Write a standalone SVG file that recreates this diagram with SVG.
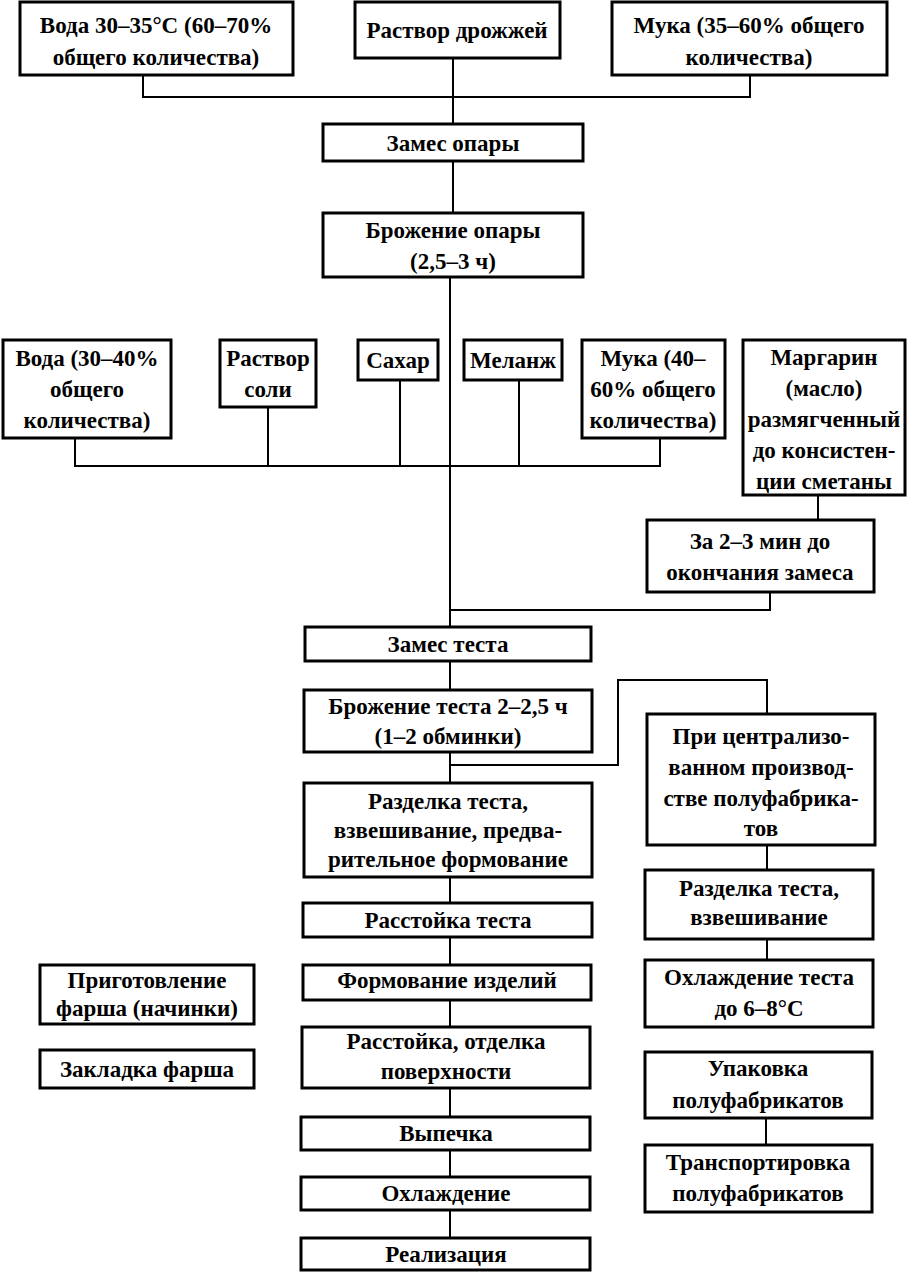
<svg xmlns="http://www.w3.org/2000/svg" width="907" height="1277" viewBox="0 0 907 1277">
<style>
.b{fill:#fff;stroke:#000;stroke-width:3}
.c{fill:none;stroke:#000;stroke-width:2}
text{font-family:"Liberation Serif","DejaVu Serif",serif;font-weight:bold;font-size:23px;text-anchor:middle;fill:#000}
</style>
<rect width="907" height="1277" fill="#fff"/>
<g id="connectors">
<path class="c" d="M143 75V97H750V75"/>
<path class="c" d="M453 58V124"/>
<path class="c" d="M453 161V213"/>
<path class="c" d="M450 277V627"/>
<path class="c" d="M75 438V466H660V438"/>
<path class="c" d="M268 407V466"/>
<path class="c" d="M400 380V466"/>
<path class="c" d="M519 380V466"/>
<path class="c" d="M818 495V520"/>
<path class="c" d="M770 592V610H450"/>
<path class="c" d="M450 661V690"/>
<path class="c" d="M450 752V783"/>
<path class="c" d="M450 765H618V680H767V714"/>
<path class="c" d="M450 877V903"/>
<path class="c" d="M450 937V965"/>
<path class="c" d="M450 1000V1027"/>
<path class="c" d="M450 1088V1117"/>
<path class="c" d="M450 1150V1177"/>
<path class="c" d="M450 1210V1238"/>
<path class="c" d="M767 845V870"/>
<path class="c" d="M767 939V960"/>
<path class="c" d="M766 1118V1145"/>
</g>
<g id="n1"><rect class="b" x="20" y="2" width="273" height="73"/><text x="156" y="33">Вода 30–35°С (60–70%</text><text x="156" y="65">общего количества)</text></g>
<g id="n2"><rect class="b" x="355" y="2" width="205" height="56"/><text x="457" y="38">Раствор дрожжей</text></g>
<g id="n3"><rect class="b" x="612" y="2" width="275" height="73"/><text x="749" y="33">Мука (35–60% общего</text><text x="749" y="65">количества)</text></g>
<g id="n4"><rect class="b" x="323" y="124" width="260" height="37"/><text x="453" y="151">Замес опары</text></g>
<g id="n5"><rect class="b" x="323" y="213" width="260" height="64"/><text x="453" y="238">Брожение опары</text><text x="453" y="269">(2,5–3 ч)</text></g>
<g id="n6"><rect class="b" x="3" y="340" width="168" height="98"/><text x="87" y="366">Вода (30–40%</text><text x="87" y="397">общего</text><text x="87" y="428">количества)</text></g>
<g id="n7"><rect class="b" x="220" y="340" width="96" height="67"/><text x="268" y="366">Раствор</text><text x="268" y="397">соли</text></g>
<g id="n8"><rect class="b" x="358" y="340" width="80" height="40"/><text x="398" y="368">Сахар</text></g>
<g id="n9"><rect class="b" x="464" y="340" width="98" height="40"/><text x="513" y="368">Меланж</text></g>
<g id="n10"><rect class="b" x="582" y="340" width="143" height="98"/><text x="653" y="366">Мука (40–</text><text x="653" y="397">60% общего</text><text x="653" y="428">количества)</text></g>
<g id="n11"><rect class="b" x="743" y="340" width="162" height="155"/><text x="824" y="365">Маргарин</text><text x="824" y="396">(масло)</text><text x="824" y="427">размягченный</text><text x="824" y="458">до консистен-</text><text x="824" y="489">ции сметаны</text></g>
<g id="n12"><rect class="b" x="647" y="520" width="227" height="72"/><text x="760" y="549">За 2–3 мин до</text><text x="760" y="580">окончания замеса</text></g>
<g id="n13"><rect class="b" x="305" y="627" width="286" height="34"/><text x="448" y="652">Замес теста</text></g>
<g id="n14"><rect class="b" x="304" y="690" width="288" height="62"/><text x="448" y="714">Брожение теста 2–2,5 ч</text><text x="448" y="744">(1–2 обминки)</text></g>
<g id="n15"><rect class="b" x="647" y="714" width="228" height="131"/><text x="761" y="744">При централизо-</text><text x="761" y="775">ванном производ-</text><text x="761" y="806">стве полуфабрика-</text><text x="761" y="836">тов</text></g>
<g id="n16"><rect class="b" x="304" y="783" width="288" height="94"/><text x="448" y="809">Разделка теста,</text><text x="448" y="838">взвешивание, предва-</text><text x="448" y="867">рительное формование</text></g>
<g id="n17"><rect class="b" x="303" y="903" width="289" height="34"/><text x="448" y="928">Расстойка теста</text></g>
<g id="n18"><rect class="b" x="303" y="965" width="288" height="35"/><text x="447" y="988">Формование изделий</text></g>
<g id="n19"><rect class="b" x="302" y="1027" width="288" height="61"/><text x="446" y="1049">Расстойка, отделка</text><text x="446" y="1079">поверхности</text></g>
<g id="n20"><rect class="b" x="301" y="1117" width="289" height="33"/><text x="446" y="1141">Выпечка</text></g>
<g id="n21"><rect class="b" x="301" y="1177" width="289" height="33"/><text x="446" y="1201">Охлаждение</text></g>
<g id="n22"><rect class="b" x="301" y="1238" width="289" height="32"/><text x="446" y="1262">Реализация</text></g>
<g id="n23"><rect class="b" x="40" y="965" width="214" height="59"/><text x="147" y="988">Приготовление</text><text x="147" y="1016">фарша (начинки)</text></g>
<g id="n24"><rect class="b" x="40" y="1050" width="214" height="38"/><text x="147" y="1077">Закладка фарша</text></g>
<g id="n25"><rect class="b" x="645" y="870" width="228" height="69"/><text x="759" y="896">Разделка теста,</text><text x="759" y="925">взвешивание</text></g>
<g id="n26"><rect class="b" x="645" y="960" width="228" height="67"/><text x="759" y="985">Охлаждение теста</text><text x="759" y="1016">до 6–8°С</text></g>
<g id="n27"><rect class="b" x="645" y="1052" width="227" height="66"/><text x="758" y="1076">Упаковка</text><text x="758" y="1108">полуфабрикатов</text></g>
<g id="n28"><rect class="b" x="645" y="1145" width="227" height="67"/><text x="758" y="1170">Транспортировка</text><text x="758" y="1201">полуфабрикатов</text></g>
</svg>
